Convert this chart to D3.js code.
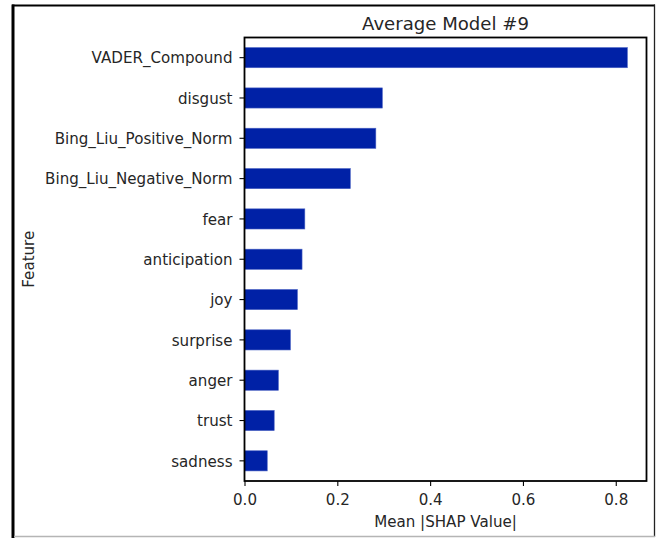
<!DOCTYPE html>
<html>
<head>
<meta charset="utf-8">
<script src="https://cdn.jsdelivr.net/npm/d3@7"></script>
<style>
  html, body { margin: 0; padding: 0; background: #fff; }
  svg { display: block; font-family: "DejaVu Sans", sans-serif; }
</style>
</head>
<body>
<svg id="chart" width="657" height="538"></svg>
<script>
// Feature importances (mean |SHAP|), top to bottom
const features = ["VADER_Compound", "disgust", "Bing_Liu_Positive_Norm", "Bing_Liu_Negative_Norm",
  "fear", "anticipation", "joy", "surprise", "anger", "trust", "sadness"];
const shapValues = [0.825, 0.297, 0.283, 0.228, 0.130, 0.124, 0.114, 0.099, 0.073, 0.064, 0.049];
const xTicks = [0.0, 0.2, 0.4, 0.6, 0.8];
const title = "Average Model #9";
const xLabel = "Mean |SHAP Value|";
const yLabel = "Feature";

const svg = d3.select("#chart");
const plot = { left: 244.5, top: 37.5, right: 646.5, bottom: 481 };
const tickFont = 15.1;

// outer figure frame
svg.append("line").attr("x1", 12).attr("x2", 655).attr("y1", 5.5).attr("y2", 5.5)
  .attr("stroke", "#000").attr("stroke-width", 2);
svg.append("line").attr("x1", 13).attr("x2", 13).attr("y1", 4.5).attr("y2", 538)
  .attr("stroke", "#000").attr("stroke-width", 3);
svg.append("line").attr("x1", 654.5).attr("x2", 654.5).attr("y1", 4.5).attr("y2", 537)
  .attr("stroke", "#222").attr("stroke-width", 1.3);
svg.append("line").attr("x1", 14).attr("x2", 655).attr("y1", 536.5).attr("y2", 536.5)
  .attr("stroke", "#b5b5b5").attr("stroke-width", 1.3);

const x = d3.scaleLinear()
  .domain([0, d3.max(shapValues) * 1.05])
  .range([plot.left, plot.right]);

const y = d3.scaleBand()
  .domain(features)
  .range([plot.top, plot.bottom])
  .paddingInner(0.5)
  .paddingOuter(0.25);

// bars
svg.append("g").selectAll("rect")
  .data(features.map((f, i) => ({ f, v: shapValues[i] })))
  .join("rect")
  .attr("x", x(0))
  .attr("y", d => y(d.f))
  .attr("width", d => x(d.v) - x(0))
  .attr("height", y.bandwidth())
  .attr("fill", "#0021a6")
  .attr("stroke", "#4a62c4")
  .attr("stroke-width", 0.6);

// x axis
const xAxis = svg.append("g")
  .attr("transform", `translate(0,${plot.bottom})`)
  .call(d3.axisBottom(x).tickValues(xTicks).tickFormat(d3.format(".1f")).tickSize(5).tickPadding(8));
xAxis.select(".domain").remove();
xAxis.selectAll("line").attr("stroke", "#000").attr("stroke-width", 1.1);
xAxis.selectAll("text").attr("font-size", tickFont).attr("fill", "#262626")
  .attr("font-family", "DejaVu Sans, sans-serif");

// y axis
const yAxis = svg.append("g")
  .attr("transform", `translate(${plot.left},0)`)
  .call(d3.axisLeft(y).tickSize(5).tickPadding(7));
yAxis.select(".domain").remove();
yAxis.selectAll("line").attr("stroke", "#000").attr("stroke-width", 1.1);
yAxis.selectAll("text").attr("font-size", tickFont).attr("fill", "#262626")
  .attr("font-family", "DejaVu Sans, sans-serif")
  .attr("dy", "0.38em");

// axes frame
svg.append("rect")
  .attr("x", plot.left).attr("y", plot.top)
  .attr("width", plot.right - plot.left).attr("height", plot.bottom - plot.top)
  .attr("fill", "none").attr("stroke", "#000").attr("stroke-width", 1.8);

// title and axis labels
svg.append("text")
  .attr("x", (plot.left + plot.right) / 2).attr("y", 29.5)
  .attr("text-anchor", "middle").attr("font-size", 18.1).attr("fill", "#262626")
  .text(title);

svg.append("text")
  .attr("x", (plot.left + plot.right) / 2).attr("y", 527)
  .attr("text-anchor", "middle").attr("font-size", tickFont).attr("fill", "#262626")
  .text(xLabel);

svg.append("text")
  .attr("transform", `translate(34,${(plot.top + plot.bottom) / 2}) rotate(-90)`)
  .attr("text-anchor", "middle").attr("font-size", tickFont).attr("fill", "#262626")
  .text(yLabel);
</script>
</body>
</html>
